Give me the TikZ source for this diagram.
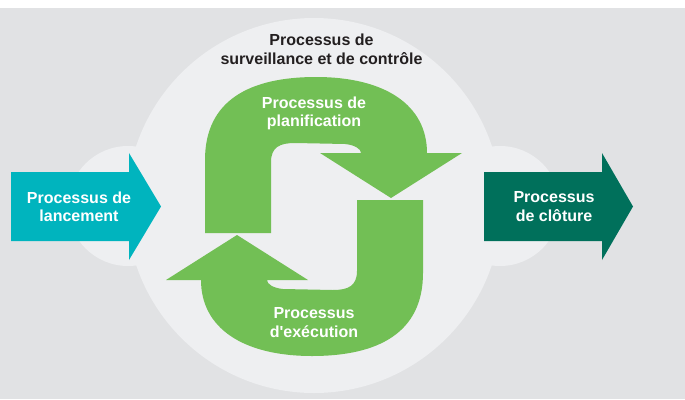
\documentclass[tikz,border=0pt]{standalone}
\usepackage{fontspec}
\setmainfont{Liberation Sans}
\newcommand\straightq{\XeTeXglyph\XeTeXcharglyph"27\relax}
\definecolor{bg}{RGB}{225,226,228}
\definecolor{halo}{RGB}{238,239,241}
\definecolor{leaf}{RGB}{114,191,85}
\definecolor{lagoon}{RGB}{0,180,190}
\definecolor{pine}{RGB}{0,112,91}
\definecolor{ink}{RGB}{35,31,32}
\begin{document}
\begin{tikzpicture}[x=1pt,y=-1pt,
  lbl/.style={align=center,font=\bfseries\fontsize{16}{18.5}\selectfont,text=white,inner sep=0pt},
  loopshape/.style={fill=leaf}]
\useasboundingbox (0,0) rectangle (685,399);
\fill[white] (0,0) rectangle (685,399);
\fill[bg] (0,8) rectangle (685,399);
\fill[halo] (128,206) circle[radius=60];
\fill[halo] (500,206) circle[radius=60];
\fill[halo] (314,205.5) circle[radius=187.5];
% side arrows
\fill[lagoon] (11,172) -- (129,172) -- (129,153) -- (161,206.5) -- (129,260) -- (129,241) -- (11,241) -- cycle;
\fill[pine] (484,172) -- (602,172) -- (602,153) -- (633,206.5) -- (602,260) -- (602,241) -- (484,241) -- cycle;
% green loop
\fill[loopshape] (205,233) -- (205,160) .. controls (205,100) and (250,77) .. (316,77)
  .. controls (385,77) and (427,105) .. (427,153) -- (462,153) -- (391,198) -- (320,153) -- (361,153)
  .. controls (361,149) and (355,145) .. (345,144) -- (295,143)
  .. controls (280,143) and (271,147) .. (271,162) -- (271,233) -- cycle;
\fill[loopshape, rotate around={180:(314,216.5)}] (205,233) -- (205,160) .. controls (205,100) and (250,77) .. (316,77)
  .. controls (385,77) and (427,105) .. (427,153) -- (462,153) -- (391,198) -- (320,153) -- (361,153)
  .. controls (361,149) and (355,145) .. (345,144) -- (295,143)
  .. controls (280,143) and (271,147) .. (271,162) -- (271,233) -- cycle;
% labels
\node[lbl,text=ink] (ctrl) at (321.5,49.3) {Processus de\\surveillance et de contrôle};
\node[lbl] (plan) at (314,113.4) {Processus de\\planification};
\node[lbl] (exec) at (314,322.7) {Processus\\d\straightq exécution};
\node[lbl] (launch) at (79,206.6) {Processus de\\lancement};
\node[lbl] (close) at (554,206.6) {Processus\\de clôture};
\end{tikzpicture}
\end{document}
